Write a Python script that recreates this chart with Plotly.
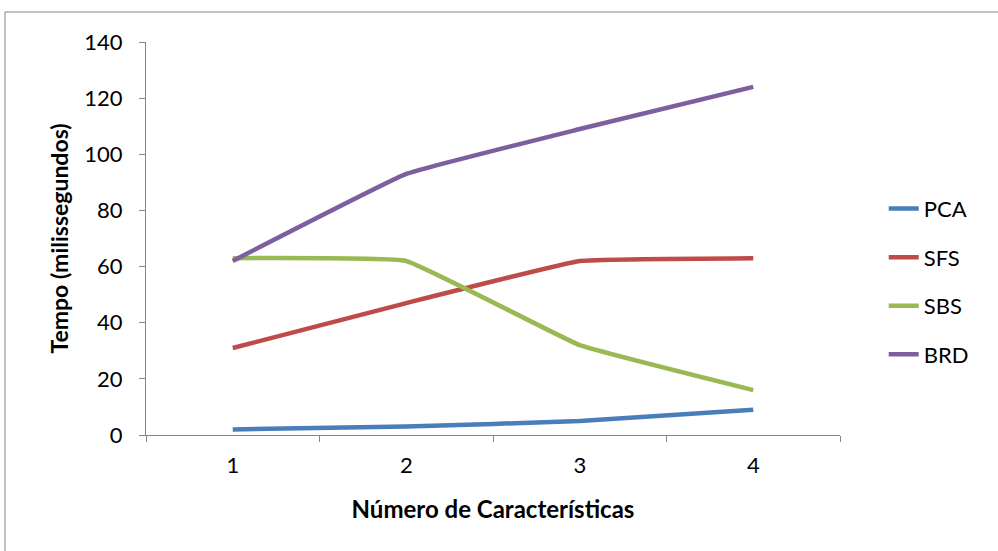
import plotly.graph_objects as go

# Number of selected features (x categories)
categorias = ["1", "2", "3", "4"]

# Execution time in milliseconds per method
pca = [2, 3, 5, 9]
sfs = [31, 47, 62, 63]
sbs = [63, 62, 32, 16]
brd = [62, 93, 109, 124]

series = [
    ("PCA", pca, "#4a7ebb"),
    ("SFS", sfs, "#be4b48"),
    ("SBS", sbs, "#98b954"),
    ("BRD", brd, "#7d5fa0"),
]

eixo_cor = "#868686"
fonte = "Lato, Carlito, Calibri, sans-serif"

fig = go.Figure()
for nome, valores, cor in series:
    fig.add_trace(go.Scatter(
        x=categorias, y=valores, name=nome, mode="lines",
        line=dict(color=cor, width=4.5, shape="spline", smoothing=0.25),
        legendgroup=nome,
    ))

fig.update_layout(
    width=998, height=551,
    margin=dict(l=146, r=158, t=42, b=116),
    paper_bgcolor="white", plot_bgcolor="white",
    font=dict(family=fonte, size=22, color="black"),
    showlegend=True,
    legend=dict(
        x=1.063, y=0.39, xanchor="left", yanchor="middle",
        font=dict(size=22), tracegroupgap=17,
        bgcolor="rgba(0,0,0,0)",
    ),
    xaxis=dict(
        type="category", range=[-0.5, 3.5],
        showline=True, linecolor=eixo_cor, linewidth=1.3,
        ticks="outside", tickson="boundaries", ticklen=6,
        tickcolor=eixo_cor, showgrid=False, zeroline=False,
        ticklabelstandoff=10,
        title=dict(text="<b>Número de Características</b>", standoff=24,
                   font=dict(size=24)),
    ),
    yaxis=dict(
        range=[0, 140], dtick=20,
        showline=True, linecolor=eixo_cor, linewidth=1.3,
        ticks="outside", ticklen=6, tickcolor=eixo_cor,
        showgrid=False, zeroline=False,
        ticklabelstandoff=12,
        title=dict(text="<b>Tempo (milissegundos)</b>", standoff=9,
                   font=dict(size=23)),
    ),
    shapes=[dict(
        type="rect", xref="paper", yref="paper",
        x0=-0.2032, x1=1.25, y0=-0.35, y1=1.0763,
        line=dict(color=eixo_cor, width=1), fillcolor="rgba(0,0,0,0)",
        layer="below",
    )],
)

fig.write_html("out.html")
